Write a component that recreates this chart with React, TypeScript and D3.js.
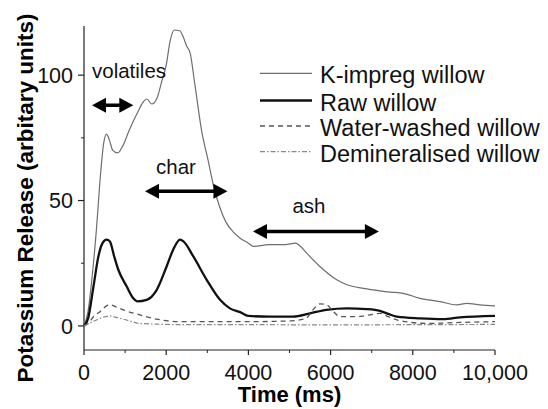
import React from "react";
import * as d3 from "d3";

// ---- data ----
const kTime = [0, 100, 200, 300, 400, 480, 550, 620, 700, 820, 950, 1100, 1300, 1450, 1530, 1650, 1780, 1900, 2000, 2100, 2200, 2330, 2420, 2500, 2580, 2700, 2860, 3020, 3150, 3300, 3450, 3630, 3800, 4000, 4120, 4500, 4900, 5150, 5250, 5420, 5740, 6150, 6400, 6800, 7200, 7450, 7770, 8175, 8660, 9070, 9310, 9630, 10000];
const kValues = [0, 6, 20, 38, 60, 73, 76.5, 74, 70, 69, 72, 78, 85, 89.5, 90.5, 88.5, 91, 98, 104, 114, 118, 117.7, 115, 111.5, 109, 96, 78, 66, 56, 47.5, 41.5, 37.5, 35, 33, 31.7, 32.4, 32.4, 33, 32, 29, 23.7, 18.4, 16.4, 15, 14, 13.5, 13, 11, 9.7, 8.4, 9, 8.4, 8];

const rawTime = [0, 100, 230, 350, 450, 550, 630, 730, 835, 1040, 1200, 1300, 1525, 1770, 2010, 2170, 2336, 2420, 2660, 2985, 3310, 3550, 3800, 4000, 4530, 5090, 5500, 5900, 6400, 6880, 7200, 7400, 7610, 8175, 8740, 9150, 10000];
const rawValues = [0, 3, 15.7, 27.7, 33, 34.4, 33.7, 28, 22.4, 15.7, 11, 9.8, 10.4, 14.4, 23.7, 30.4, 34.4, 33.7, 27.7, 18.4, 10.4, 7, 5.5, 4, 3.7, 3.7, 5, 6.4, 7, 6.7, 6, 4.8, 3.7, 3, 2.7, 3.4, 4];

const washedTime = [0, 100, 250, 390, 550, 633, 800, 957, 1360, 1770, 2340, 3000, 4000, 5000, 5400, 5550, 5742, 5905, 6067, 6229, 6600, 6960, 7200, 7400, 7610, 8340, 9150, 10000];
const washedValues = [0, 1, 4, 5.7, 8, 8.4, 7.5, 6.4, 4.4, 2.7, 1.7, 1.7, 1.7, 2, 3, 6, 8.8, 8.4, 5.7, 3.7, 3.7, 4.4, 5, 3.7, 2.4, 1, 1.4, 1.7];

const deminTime = [0, 150, 390, 633, 800, 957, 1360, 1770, 2500, 4000, 6000, 8000, 10000];
const deminValues = [0, 1.2, 3, 4, 3.3, 2.7, 1, 0.7, 0.5, 0.5, 0.4, 0.5, 0.6];

const seriesNames = ["K-impreg willow", "Raw willow", "Water-washed willow", "Demineralised willow"];

const xMajorTicks = [0, 2000, 4000, 6000, 8000, 10000];
const xTickLabels = ["0", "2000", "4000", "6000", "8000", "10,000"];
const xMinorTicks = [1000, 3000, 5000, 7000, 9000];
const yMajorTicks = [0, 50, 100];
const yMinorTicks = [25, 75];

const annotLabels = ["volatiles", "char", "ash"];
const annotStart = [195, 1484, 4112];
const annotEnd = [1200, 3490, 7175];
const annotY = [88, 53.7, 37.7];
const annotLabelX = [195, 2238, 5474];
const annotLabelY = [98.8, 60.4, 45.2];
const annotAnchor = ["start", "middle", "middle"];

// ---- layout ----
const W = 548;
const H = 409;
const left = 84;
const right = 495;
const top = 26;
const bottom = 350;

const FONT = "'Liberation Sans', Arial, Helvetica, sans-serif";

export default function App() {
  const x = d3.scaleLinear().domain([0, 10000]).range([left, right]);
  const y = d3.scaleLinear().domain([-9.6, 119.6]).range([bottom, top]);

  const line = d3
    .line<[number, number]>()
    .x((d) => x(d[0]))
    .y((d) => y(d[1]))
    .curve(d3.curveMonotoneX);

  const zip = (t: number[], v: number[]) => t.map((tt, i) => [tt, v[i]] as [number, number]);

  const series = [
    { name: seriesNames[0], data: zip(kTime, kValues), stroke: "#6e6e6e", width: 1.2, dash: undefined as string | undefined },
    { name: seriesNames[1], data: zip(rawTime, rawValues), stroke: "#111", width: 2.3, dash: undefined },
    { name: seriesNames[2], data: zip(washedTime, washedValues), stroke: "#555", width: 1.3, dash: "5,4" },
    { name: seriesNames[3], data: zip(deminTime, deminValues), stroke: "#888", width: 1.2, dash: "5,2,1.5,2" },
  ];

  const legendRows = [73.3, 100.5, 126, 151.7];

  const arrow = (x1: number, x2: number, yy: number, key: string) => {
    const hl = 14;
    const hw = 7.5;
    return (
      <g key={key}>
        <line x1={x1 + hl - 1} x2={x2 - hl + 1} y1={yy} y2={yy} stroke="#000" strokeWidth={3.5} />
        <path d={`M${x1},${yy} L${x1 + hl},${yy - hw} L${x1 + hl},${yy + hw} Z`} fill="#000" />
        <path d={`M${x2},${yy} L${x2 - hl},${yy - hw} L${x2 - hl},${yy + hw} Z`} fill="#000" />
      </g>
    );
  };

  return (
    <svg
      width={W}
      height={H}
      style={{ position: "absolute", left: 0, top: 0, background: "#fff" }}
      fontFamily={FONT}
    >
      <rect x={0} y={0} width={W} height={H} fill="#fff" />
      {/* axes */}
      <line x1={left} x2={left} y1={top} y2={bottom} stroke="#222" strokeWidth={1.2} />
      <line x1={left} x2={right} y1={bottom} y2={bottom} stroke="#222" strokeWidth={1.2} />
      {xMajorTicks.map((t, i) => (
        <g key={"xt" + t}>
          <line x1={x(t)} x2={x(t)} y1={bottom} y2={bottom + 5} stroke="#222" strokeWidth={1.2} />
          <text x={x(t)} y={380} textAnchor="middle" fontSize={21.5} fill="#111">
            {xTickLabels[i]}
          </text>
        </g>
      ))}
      {xMinorTicks.map((t) => (
        <line key={"xm" + t} x1={x(t)} x2={x(t)} y1={bottom} y2={bottom + 3} stroke="#222" strokeWidth={1} />
      ))}
      {yMajorTicks.map((v) => (
        <g key={"yt" + v}>
          <line x1={left - 6} x2={left} y1={y(v)} y2={y(v)} stroke="#222" strokeWidth={1.2} />
          <text x={73} y={y(v) + 7.7} textAnchor="end" fontSize={21.5} fill="#111">
            {v}
          </text>
        </g>
      ))}
      {yMinorTicks.map((v) => (
        <line key={"ym" + v} x1={left - 3} x2={left} y1={y(v)} y2={y(v)} stroke="#222" strokeWidth={1} />
      ))}
      {/* axis titles */}
      <text x={(left + right) / 2} y={402} textAnchor="middle" fontSize={22} fontWeight="bold" fill="#000">
        Time (ms)
      </text>
      <text
        transform={`translate(33,198) rotate(-90)`}
        textAnchor="middle"
        fontSize={22.5}
        fontWeight="bold"
        fill="#000"
      >
        Potassium Release (arbitary units)
      </text>
      {/* series */}
      {series.map((s) => (
        <path
          key={s.name}
          d={line(s.data) || ""}
          fill="none"
          stroke={s.stroke}
          strokeWidth={s.width}
          strokeDasharray={s.dash}
          strokeLinejoin="round"
        />
      ))}
      {/* annotations */}
      {annotLabels.map((lab, i) => (
        <g key={lab}>
          {arrow(x(annotStart[i]), x(annotEnd[i]), y(annotY[i]), "a" + i)}
          <text
            x={x(annotLabelX[i])}
            y={y(annotLabelY[i])}
            textAnchor={annotAnchor[i] as any}
            fontSize={20.5}
            fill="#111"
          >
            {lab}
          </text>
        </g>
      ))}
      {/* legend */}
      {series.map((s, i) => (
        <g key={"lg" + i}>
          <line
            x1={260}
            x2={312}
            y1={legendRows[i]}
            y2={legendRows[i]}
            stroke={s.stroke}
            strokeWidth={s.width}
            strokeDasharray={s.dash}
          />
          <text x={320} y={legendRows[i] + 10} fontSize={23.5} fill="#111">
            {s.name}
          </text>
        </g>
      ))}
    </svg>
  );
}
